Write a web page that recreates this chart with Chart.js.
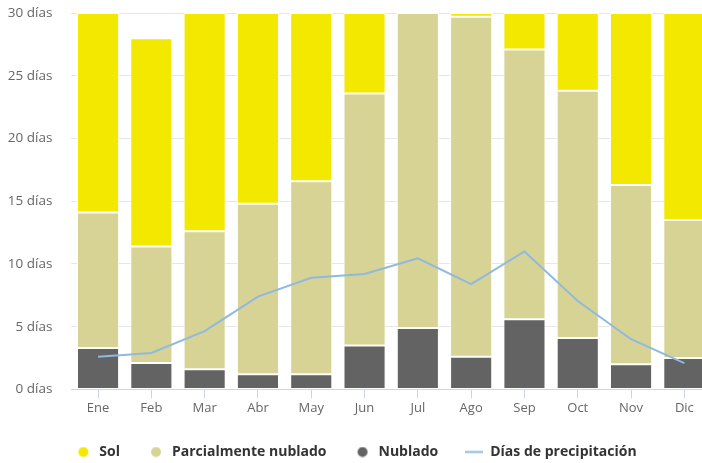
<!DOCTYPE html>
<html>
<head>
<meta charset="utf-8">
<script src="https://cdn.jsdelivr.net/npm/chart.js@4"></script>
<style>
html,body{margin:0;padding:0;background:#fff;overflow:hidden;}
#wrap{width:702px;height:463px;position:relative;overflow:hidden;}
#inner{position:absolute;left:0;top:-14px;width:711px;height:483px;}
</style>
</head>
<body>
<div id="wrap"><div id="inner"><canvas id="c"></canvas></div></div>
<script>
const months = ["Ene","Feb","Mar","Abr","May","Jun","Jul","Ago","Sep","Oct","Nov","Dic"];
const nublado = [3.3,2.1,1.6,1.2,1.2,3.5,4.9,2.6,5.6,4.1,2.0,2.5];
const parcial = [10.8,9.3,11.0,13.6,15.4,20.1,25.1,27.1,21.5,19.7,14.3,11.0];
const sol = [15.9,16.6,17.4,15.2,13.4,6.4,0,0.3,2.9,6.2,13.7,16.5];
const precipitacion = [2.6,2.9,4.65,7.4,8.9,9.2,10.45,8.4,11.0,7.05,4.0,2.1];
const yTicks = [0,5,10,15,20,25,30];

const FONT = "'Open Sans', 'DejaVu Sans', sans-serif";
const legendOrder = {"Sol":0,"Parcialmente nublado":1,"Nublado":2,"Días de precipitación":3};
const SYM_W = 18;

function circleSymbol(color){
  const c = document.createElement('canvas');
  c.width = SYM_W; c.height = 11;
  const ctx = c.getContext('2d');
  ctx.fillStyle = color;
  ctx.beginPath(); ctx.arc(SYM_W/2, 5.5, 5, 0, Math.PI*2); ctx.fill();
  return c;
}
function lineSymbol(color){
  const c = document.createElement('canvas');
  c.width = SYM_W; c.height = 11;
  const ctx = c.getContext('2d');
  ctx.strokeStyle = color; ctx.lineWidth = 2;
  ctx.beginPath(); ctx.moveTo(0, 5.5); ctx.lineTo(SYM_W, 5.5); ctx.stroke();
  return c;
}

const C_NUB = '#636363', C_PAR = '#d6d395', C_SOL = '#f2e800', C_PRE = '#90b9df';

new Chart(document.getElementById('c'), {
  data: {
    labels: months,
    datasets: [
      {type:'bar', label:'Nublado', data:nublado, backgroundColor:C_NUB, borderColor:'#ffffff', borderWidth:1, borderSkipped:false, stack:'bars', pointStyle:circleSymbol(C_NUB), order:2},
      {type:'bar', label:'Parcialmente nublado', data:parcial, backgroundColor:C_PAR, borderColor:'#ffffff', borderWidth:1, borderSkipped:false, stack:'bars', pointStyle:circleSymbol(C_PAR), order:2},
      {type:'bar', label:'Sol', data:sol, backgroundColor:C_SOL, borderColor:'#ffffff', borderWidth:1, borderSkipped:false, stack:'bars', pointStyle:circleSymbol(C_SOL), order:2},
      {type:'line', label:'Días de precipitación', data:precipitacion, borderColor:C_PRE, backgroundColor:C_PRE, borderWidth:2, pointRadius:0, pointHoverRadius:0, tension:0, fill:false, stack:'precip', pointStyle:lineSymbol(C_PRE), order:1}
    ]
  },
  options: {
    responsive:true,
    maintainAspectRatio:false,
    animation:false,
    datasets:{bar:{categoryPercentage:1, barPercentage:0.79}},
    layout:{padding:{left:0, right:0, top:6, bottom:0}},
    scales:{
      x:{
        stacked:true,
        offset:true,
        grid:{display:true, drawOnChartArea:false, offset:false, tickLength:9, color:'#ccd6eb'},
        border:{color:'#ccd6eb', width:1},
        ticks:{color:'#666666', font:{family:FONT, size:13}, padding:2}
      },
      y:{
        stacked:true,
        min:0, max:30,
        afterBuildTicks:(s)=>{ s.ticks = yTicks.map(v=>({value:v})); },
        afterFit:(s)=>{ s.width = 71.4; },
        grid:{color:'#e6e6e6', drawTicks:false},
        border:{display:false},
        ticks:{color:'#666666', font:{family:FONT, size:13.5}, padding:19, callback:(v)=>v+' días'}
      }
    },
    plugins:{
      legend:{
        position:'bottom',
        labels:{
          usePointStyle:true,
          pointStyleWidth:SYM_W,
          boxHeight:11,
          padding:27,
          color:'#333333',
          font:{family:FONT, size:14, weight:'bold'},
          sort:(a,b)=>legendOrder[a.text]-legendOrder[b.text]
        }
      },
      tooltip:{enabled:false}
    }
  }
});
</script>
</body>
</html>
